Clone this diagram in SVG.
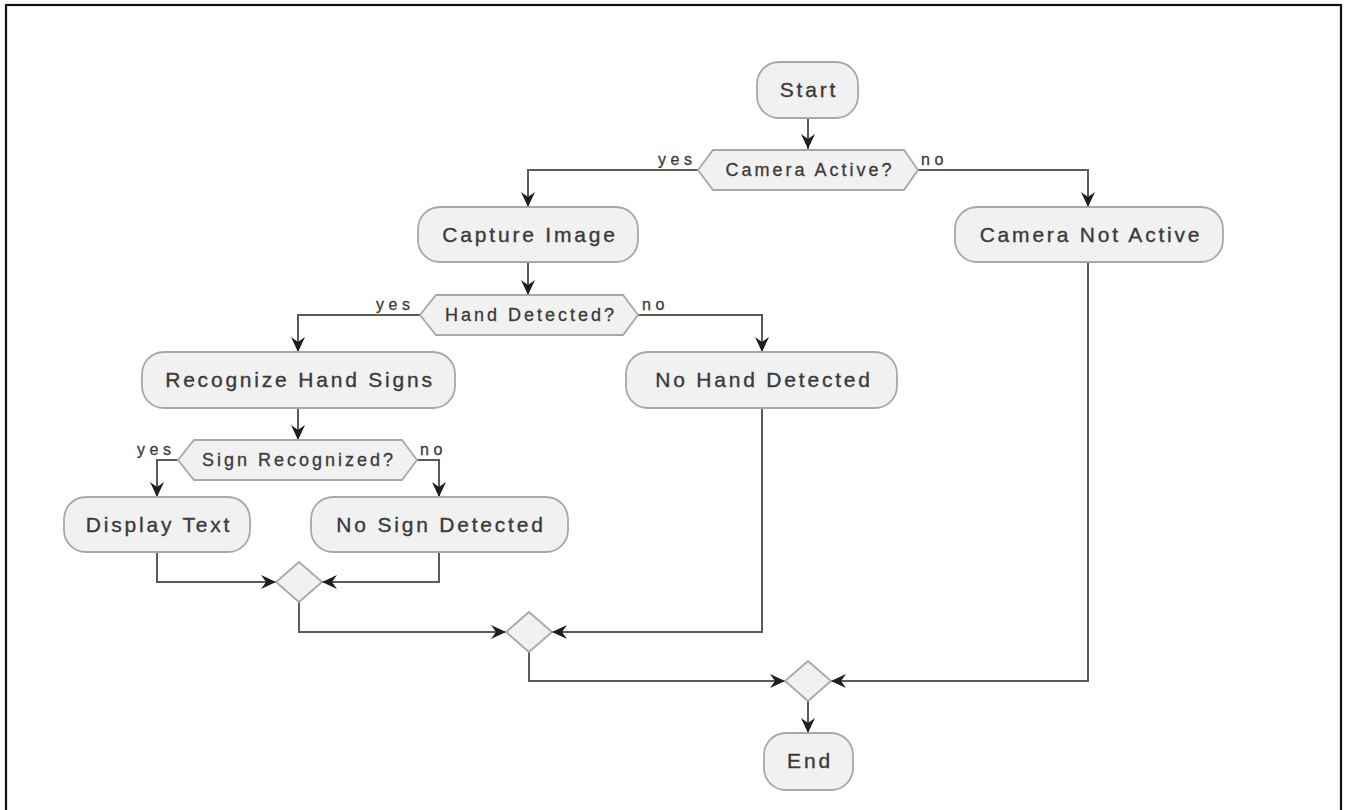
<svg xmlns="http://www.w3.org/2000/svg" width="1346" height="810" viewBox="0 0 1346 810">
<defs>
<marker id="arr" viewBox="0 0 16 14" refX="15" refY="7" markerWidth="16" markerHeight="14" markerUnits="userSpaceOnUse" orient="auto">
<path d="M0,0 L15,7 L0,14 L5,7 Z" fill="#1e1e1e"/>
</marker>
<style>
.box{fill:#f1f1f1;stroke:#a8a8a8;stroke-width:1.8}
.t{font-family:"Liberation Sans",Arial,sans-serif;font-size:21px;letter-spacing:2.8px;fill:#3a3a3a;stroke:#3a3a3a;stroke-width:0.35;text-anchor:middle}
.d{font-family:"Liberation Sans",Arial,sans-serif;font-size:18px;letter-spacing:3px;fill:#3a3a3a;stroke:#3a3a3a;stroke-width:0.3;text-anchor:middle}
.l{font-family:"Liberation Sans",Arial,sans-serif;font-size:16px;letter-spacing:4.5px;fill:#3a3a3a;stroke:#3a3a3a;stroke-width:0.3}
.c{fill:none;stroke:#5a5a5a;stroke-width:2}
.ca{fill:none;stroke:#5a5a5a;stroke-width:2;marker-end:url(#arr)}
</style>
</defs>
<rect x="0" y="0" width="1346" height="810" fill="#ffffff"/>
<rect x="6" y="5" width="1335" height="830" fill="none" stroke="#111" stroke-width="2.2"/>

<g id="connectors">
<path class="ca" d="M808,118 V149"/>
<path class="ca" d="M698,170 H528 V207"/>
<path class="ca" d="M918,170 H1088 V207"/>
<path class="ca" d="M528,262 V295"/>
<path class="ca" d="M420,315 H298 V352"/>
<path class="ca" d="M638,315 H762 V352"/>
<path class="ca" d="M298,408 V440"/>
<path class="ca" d="M178,460 H157 V497"/>
<path class="ca" d="M417,460 H439 V497"/>
<path class="ca" d="M157,552 V582 H276"/>
<path class="ca" d="M439,552 V582 H322"/>
<path class="ca" d="M299,602 V632 H506"/>
<path class="ca" d="M762,408 V632 H552"/>
<path class="ca" d="M529,652 V681 H785"/>
<path class="ca" d="M1088,262 V681 H831"/>
<path class="ca" d="M808,701 V733"/>
<text class="l" x="658" y="165">yes</text>
<text class="l" x="921" y="165">no</text>
<text class="l" x="376" y="310">yes</text>
<text class="l" x="642" y="310">no</text>
<text class="l" x="137" y="455">yes</text>
<text class="l" x="420" y="455">no</text>
</g>

<g id="start">
<rect class="box" x="757" y="62" width="101" height="56" rx="22"/>
<text class="t" x="809" y="97">Start</text>
</g>
<g id="camera-active">
<polygon class="box" points="698,170 713,150 904,150 918,170 904,190 713,190"/>
<text class="d" x="810" y="176">Camera Active?</text>
</g>
<g id="capture-image">
<rect class="box" x="418" y="207" width="220" height="55" rx="22"/>
<text class="t" x="530" y="242">Capture Image</text>
</g>
<g id="camera-not-active">
<rect class="box" x="955" y="207" width="268" height="55" rx="22"/>
<text class="t" x="1091" y="242">Camera Not Active</text>
</g>
<g id="hand-detected">
<polygon class="box" points="420,315 436,295 623,295 638,315 623,335 436,335"/>
<text class="d" x="531" y="321">Hand Detected?</text>
</g>
<g id="recognize">
<rect class="box" x="142" y="352" width="313" height="56" rx="22"/>
<text class="t" x="300" y="387">Recognize Hand Signs</text>
</g>
<g id="no-hand">
<rect class="box" x="626" y="352" width="271" height="56" rx="22"/>
<text class="t" x="764" y="387">No Hand Detected</text>
</g>
<g id="sign-recognized">
<polygon class="box" points="178,460 194,440 402,440 417,460 402,480 194,480"/>
<text class="d" x="299" y="466">Sign Recognized?</text>
</g>
<g id="display-text">
<rect class="box" x="64" y="497" width="186" height="55" rx="22"/>
<text class="t" x="159" y="532">Display Text</text>
</g>
<g id="no-sign">
<rect class="box" x="311" y="497" width="257" height="55" rx="22"/>
<text class="t" x="441" y="532">No Sign Detected</text>
</g>
<g id="merge1">
<polygon class="box" points="299,562 322,582 299,602 276,582"/>
</g>
<g id="merge2">
<polygon class="box" points="529,612 552,632 529,652 506,632"/>
</g>
<g id="merge3">
<polygon class="box" points="808,661 831,681 808,701 785,681"/>
</g>
<g id="end">
<rect class="box" x="764" y="733" width="89" height="57" rx="22"/>
<text class="t" x="810" y="768">End</text>
</g>
</svg>
